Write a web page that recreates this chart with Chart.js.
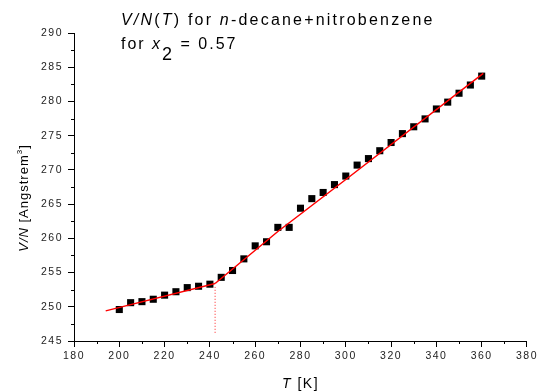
<!DOCTYPE html>
<html>
<head>
<meta charset="utf-8">
<script src="https://cdn.jsdelivr.net/npm/chart.js@4"></script>
<style>
  html, body { margin: 0; padding: 0; background: #fff; }
  #wrap { width: 541px; height: 392px; }
</style>
</head>
<body>
<div id="wrap"><canvas id="chart" width="541" height="392"></canvas></div>
<script>
// measured points
const temps = [200, 205, 210, 215, 220, 225, 230, 235, 240, 245, 250, 255, 260, 265, 270, 275, 280,
               285, 290, 295, 300, 305, 310, 315, 320, 325, 330, 335, 340, 345, 350, 355, 360];
const volumes = [249.6, 250.6, 250.75, 251.1, 251.7, 252.2, 252.8, 253.0, 253.3, 254.3, 255.3, 257.0, 258.9,
                 259.5, 261.6, 261.6, 264.4, 265.8, 266.7, 267.85, 269.1, 270.7, 271.65, 272.8, 274.0,
                 275.3, 276.3, 277.45, 278.9, 279.9, 281.2, 282.4, 283.7];

// fitted lines (low-T and high-T branch)
const fitLowT = [194, 242.3];
const fitLowV = [249.4, 253.4];
const fitHighT = [242.3, 270, 300, 360.7];
const fitHighV = [253.4, 261.0, 268.6, 284.1];

// transition marker
const transT = [242.3, 242.3];
const transV = [246.2, 252.9];

const xTicks = [180, 200, 220, 240, 260, 280, 300, 320, 340, 360, 380];
const yTicks = [245, 250, 255, 260, 265, 270, 275, 280, 285, 290];

const FONT = 'Arial, "Liberation Sans", sans-serif';

function pairs(xs, ys) {
    return xs.map((x, i) => ({x: x, y: ys[i]}));
}

// text pieces drawn one after another: [text, italic, size, dy]
function drawRuns(ctx, x, y, runs) {
    runs.forEach(r => {
        ctx.font = (r[1] ? 'italic ' : '') + r[2] + 'px ' + FONT;
        ctx.fillText(r[0], x, y + (r[3] || 0));
        x += ctx.measureText(r[0]).width;
    });
    return x;
}

function runsWidth(ctx, runs) {
    let w = 0;
    runs.forEach(r => {
        ctx.font = (r[1] ? 'italic ' : '') + r[2] + 'px ' + FONT;
        w += ctx.measureText(r[0]).width;
    });
    return w;
}

// the original's lettering is spaced out a bit
const spacing = {
    id: 'spacing',
    beforeUpdate(chart) { chart.ctx.letterSpacing = '1.5px'; },
    beforeDraw(chart) { chart.ctx.letterSpacing = '1.5px'; }
};

const decor = {
    id: 'decor',
    afterDraw(chart) {
        const ctx = chart.ctx;
        const xs = chart.scales.x, ys = chart.scales.y;
        ctx.save();

        // minor ticks
        ctx.strokeStyle = '#000';
        ctx.lineWidth = 1;
        ctx.beginPath();
        for (let t = 190; t < 380; t += 20) {
            const px = Math.round(xs.getPixelForValue(t)) + 0.5;
            ctx.moveTo(px, ys.bottom);
            ctx.lineTo(px, ys.bottom + 3);
        }
        for (let v = 247.5; v < 290; v += 5) {
            const py = Math.round(ys.getPixelForValue(v)) + 0.5;
            ctx.moveTo(xs.left, py);
            ctx.lineTo(xs.left - 3, py);
        }
        ctx.stroke();

        ctx.fillStyle = '#000';
        ctx.textBaseline = 'alphabetic';
        ctx.textAlign = 'left';

        // title
        ctx.letterSpacing = '2.2px';
        drawRuns(ctx, 121, 25, [['V/N', true, 16], ['(', false, 16], ['T', true, 16],
            [') for ', false, 16], ['n', true, 16], ['-decane+nitrobenzene', false, 16]]);
        ctx.letterSpacing = '2px';
        drawRuns(ctx, 121, 49, [['for ', false, 16], ['x', true, 16], ['2', false, 18, 11],
            [' = 0.57', false, 16]]);

        // x axis title
        ctx.letterSpacing = '1.5px';
        const xr = [['T', true, 14], [' [K]', false, 14]];
        drawRuns(ctx, (xs.left + xs.right) / 2 - runsWidth(ctx, xr) / 2, 388, xr);

        // y axis title
        ctx.letterSpacing = '1px';
        ctx.translate(28, 198);
        ctx.rotate(-Math.PI / 2);
        const yr = [['V/N', true, 13], [' [Angstrem', false, 13], ['3', false, 8, -6], [']', false, 13]];
        drawRuns(ctx, -runsWidth(ctx, yr) / 2, 0, yr);
        ctx.restore();
    }
};

new Chart(document.getElementById('chart'), {
    type: 'scatter',
    data: {
        datasets: [
            {
                data: pairs(transT, transV),
                showLine: true,
                borderColor: '#ff2020',
                borderWidth: 1,
                borderDash: [1, 2],
                pointRadius: 0
            },
            {
                data: pairs(fitLowT, fitLowV),
                showLine: true,
                borderColor: '#ff0000',
                borderWidth: 1.5,
                pointRadius: 0
            },
            {
                data: pairs(fitHighT, fitHighV),
                showLine: true,
                borderColor: '#ff0000',
                borderWidth: 1.5,
                pointRadius: 0
            },
            {
                data: pairs(temps, volumes),
                pointStyle: 'rect',
                pointRadius: 5,
                pointBorderWidth: 0,
                backgroundColor: '#000',
                borderColor: '#000'
            }
        ]
    },
    options: {
        responsive: false,
        animation: false,
        layout: { padding: { top: 33, right: 14, left: 0, bottom: 0 } },
        plugins: {
            legend: { display: false },
            tooltip: { enabled: false }
        },
        scales: {
            x: {
                type: 'linear',
                min: 180,
                max: 380,
                afterBuildTicks: s => { s.ticks = xTicks.map(v => ({value: v})); },
                afterFit: s => { s.height = 392 - 341; },
                border: { color: '#000', width: 1 },
                grid: { drawOnChartArea: false, drawTicks: true, tickLength: 6, tickColor: '#000' },
                ticks: { color: '#222', padding: 3, font: { size: 10.5, family: FONT } }
            },
            y: {
                type: 'linear',
                min: 245,
                max: 290,
                afterBuildTicks: s => { s.ticks = yTicks.map(v => ({value: v})); },
                afterFit: s => { s.width = 74; },
                border: { color: '#000', width: 1 },
                grid: { drawOnChartArea: false, drawTicks: true, tickLength: 6, tickColor: '#000' },
                ticks: { color: '#222', padding: 5, font: { size: 10.5, family: FONT } }
            }
        }
    },
    plugins: [spacing, decor]
});
</script>
</body>
</html>
